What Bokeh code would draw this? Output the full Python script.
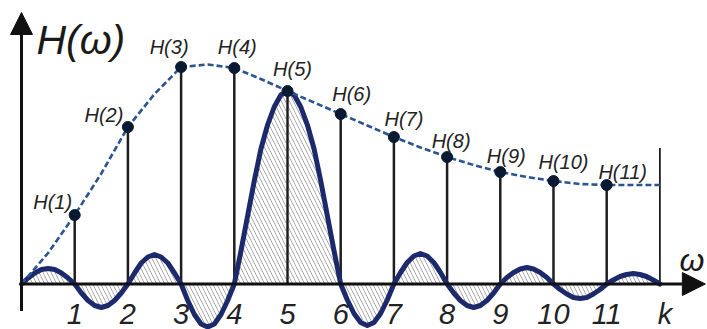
from bokeh.plotting import figure
from bokeh.models import Range1d, Arrow, NormalHead, ColumnDataSource
from bokeh.core.properties import value
from bokeh.embed import file_html
from bokeh.resources import INLINE

# ---------------- data ----------------
k_vals = [1, 2, 3, 4, 5, 6, 7, 8, 9, 10, 11]
H_vals = [0.69, 1.57, 2.17, 2.16, 1.93, 1.70, 1.47, 1.27, 1.12, 1.03, 0.99]
H_labels = ["H(1)", "H(2)", "H(3)", "H(4)", "H(5)", "H(6)", "H(7)",
            "H(8)", "H(9)", "H(10)", "H(11)"]

tick_pos = [1, 2, 3, 4, 5, 6, 7, 8, 9, 10, 11, 12]
tick_labels = ["1", "2", "3", "4", "5", "6", "7", "8", "9", "10", "11", "k"]

k_end = 12
k_end_height = 1.36

# dashed envelope H(w), sampled every 0.5
env_x = [0, 0.5, 1, 1.5, 2, 2.5, 3, 3.5, 4, 4.5, 5, 5.5, 6, 6.5, 7, 7.5,
         8, 8.5, 9, 9.5, 10, 10.5, 11, 11.5, 12]
env_y = [0, 0.31, 0.69, 1.105, 1.57, 1.90, 2.17, 2.195, 2.16, 2.05, 1.93,
         1.815, 1.70, 1.585, 1.47, 1.365, 1.27, 1.19, 1.12, 1.07, 1.03,
         1.00, 0.99, 0.99, 0.99]

# oscillating (sinc-like) curve, sampled every 1/8
wave_x = [i / 8 for i in range(97)]
wave_y = [0, 0.06, 0.11, 0.145, 0.155, 0.145, 0.11, 0.06, 0,
          -0.09, -0.165, -0.215, -0.235, -0.215, -0.165, -0.09, 0,
          0.11, 0.21, 0.27, 0.295, 0.27, 0.21, 0.11, 0,
          -0.165, -0.305, -0.40, -0.43, -0.40, -0.305, -0.165, 0,
          0.33, 0.68, 1.03, 1.35, 1.59, 1.77, 1.89, 1.93,
          1.89, 1.77, 1.59, 1.35, 1.03, 0.68, 0.33, 0,
          -0.16, -0.295, -0.385, -0.415, -0.385, -0.295, -0.16, 0,
          0.115, 0.215, 0.28, 0.305, 0.28, 0.215, 0.115, 0,
          -0.09, -0.165, -0.215, -0.235, -0.215, -0.165, -0.09, 0,
          0.065, 0.115, 0.15, 0.165, 0.15, 0.115, 0.065, 0,
          -0.055, -0.10, -0.135, -0.145, -0.135, -0.10, -0.055, 0,
          0.04, 0.075, 0.095, 0.105, 0.095, 0.075, 0.04, 0]

# ---------------- styling ----------------
label_dx = [-22, -24, -12, 3, 5, 11, 10, 4, 6, 10, 16]
label_dy = [-13, -12, -20, -21, -22, -20, -18, -16, -16, -19, -13]
tick_dx = [0] * 11 + [5]

FONT = value("Liberation Sans")
INK = "#1e1e1e"

x0, x1 = -0.395, 12.895
y0, y1 = -0.455, 2.835

p = figure(width=707, height=329, x_range=Range1d(x0, x1), y_range=Range1d(y0, y1),
           output_backend="svg", toolbar_location=None, min_border=0,
           x_axis_type=None, y_axis_type=None, outline_line_color=None,
           background_fill_color="white", border_fill_color="white")

# hatched area between the curve and the axis
p.varea(x=wave_x, y1=0, y2=wave_y, fill_color=None, fill_alpha=0,
        hatch_pattern="\\", hatch_color="#a0a0a0", hatch_scale=8, hatch_weight=0.9)

# stems
p.segment(x0=k_vals, y0=[0] * len(k_vals), x1=k_vals, y1=H_vals,
          line_color=INK, line_width=2.5)
p.segment(x0=[k_end], y0=[0], x1=[k_end], y1=[k_end_height],
          line_color=INK, line_width=1.8)

# axes with arrows
p.add_layout(Arrow(x_start=0, y_start=0, x_end=x1 - 0.04, y_end=0,
                   line_color="#111111", line_width=3,
                   end=NormalHead(size=23, fill_color="#111111", line_color="#111111", line_width=1)))
p.add_layout(Arrow(x_start=0, y_start=-0.27, x_end=0, y_end=y1 - 0.12,
                   line_color="#111111", line_width=3,
                   end=NormalHead(size=22, fill_color="#111111", line_color="#111111", line_width=1)))

# oscillating curve
p.line(wave_x, wave_y, line_color="#1c2a6c", line_width=5, line_join="round", line_cap="round")

# dashed envelope
p.line(env_x, env_y, line_color="#2a5591", line_width=2.6, line_dash="6 3")

# dots
p.scatter(k_vals, H_vals, size=11, fill_color="#0b1a33", line_color="#0b1a33")

# H(k) labels
lab_src = ColumnDataSource(dict(x=k_vals, y=H_vals, text=H_labels, dx=label_dx, dy=label_dy))
p.text(x="x", y="y", text="text", x_offset="dx", y_offset="dy", source=lab_src,
       text_font=FONT, text_font_style="italic", text_font_size="20px",
       text_align="center", text_baseline="alphabetic", text_color="#222222")

# tick labels
tick_src = ColumnDataSource(dict(x=tick_pos, y=[0] * len(tick_pos), text=tick_labels, dx=tick_dx))
p.text(x="x", y="y", text="text", x_offset="dx", y_offset=30, source=tick_src,
       text_font=FONT, text_font_style="italic", text_font_size="29px",
       text_align="center", text_baseline="alphabetic", text_color="#222222")

# axis titles
p.text(x=[0.28], y=[2.44], text=["H(ω)"], text_font=FONT, text_font_style="italic",
       text_font_size="41px", text_align="left", text_baseline="alphabetic",
       text_color="#1a1a1a")
p.text(x=[12.37], y=[0.245], text=["ω"], text_font=FONT, text_font_style="italic",
       text_font_size="32px", text_align="left", text_baseline="alphabetic",
       text_color="#1a1a1a")

open("out.html", "w").write(file_html(p, INLINE))
